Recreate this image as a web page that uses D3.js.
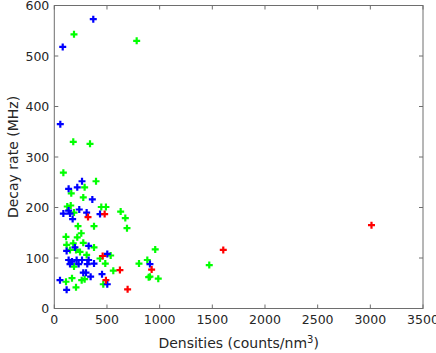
<!DOCTYPE html>
<html><head><meta charset="utf-8">
<script src="https://cdn.jsdelivr.net/npm/d3@7"></script>
<style>body{margin:0;background:#fff}svg{display:block}</style>
</head><body><svg id="c" width="436" height="353"></svg>
<script>
const xTicks = [0,500,1000,1500,2000,2500,3000,3500];
const yTicks = [0,100,200,300,400,500,600];
const blueX = [370,80,57,263,136,218,361,86,136,149,237,174,307,434,196,326,117,503,136,168,212,263,326,377,149,231,313,908,275,301,345,453,503,54,117];
const blueY = [573,518,365,252,237,240,216,188,194,188,196,177,190,187,121,124,114,108,96,93,96,96,96,89,88,88,88,88,71,71,63,68,48,56,37];
const greenX = [187,782,180,339,86,396,288,161,275,446,490,123,156,187,630,674,690,377,225,256,111,218,180,275,117,377,149,244,206,307,535,434,484,187,560,804,883,958,1471,260,465,111,168,206,288,896,908,987];
const greenY = [543,530,330,326,269,252,240,228,220,201,201,202,204,190,192,179,159,163,163,149,142,141,129,130,126,121,116,112,116,106,105,99,89,83,75,89,96,117,86,56,48,53,60,42,58,62,63,59];
const redX = [3011,1604,320,478,459,623,924,490,696];
const redY = [165,116,181,187,104,76,77,56,38];

const L=54.3,R=423,T=5.5,B=308.5;
const svg=d3.select("#c");
const x=d3.scaleLinear().domain([0,3500]).range([L,R]);
const y=d3.scaleLinear().domain([0,600]).range([B,T]);
const axisCol="#6e6e6e", txtCol="#262626";
const font="DejaVu Sans, sans-serif";

svg.append("rect").attr("x",L).attr("y",T).attr("width",R-L).attr("height",B-T)
  .attr("fill","none").attr("stroke",axisCol).attr("stroke-width",1);
const tl=4;
xTicks.forEach(v=>{
  svg.append("line").attr("x1",x(v)).attr("x2",x(v)).attr("y1",B).attr("y2",B-tl).attr("stroke",axisCol);
  svg.append("line").attr("x1",x(v)).attr("x2",x(v)).attr("y1",T).attr("y2",T+tl).attr("stroke",axisCol);
  svg.append("text").attr("x",x(v)).attr("y",B+15.5).attr("text-anchor","middle")
    .attr("font-family",font).attr("font-size",12.5).attr("fill",txtCol).text(v);
});
yTicks.forEach(v=>{
  svg.append("line").attr("x1",L).attr("x2",L+tl).attr("y1",y(v)).attr("y2",y(v)).attr("stroke",axisCol);
  svg.append("line").attr("x1",R).attr("x2",R-tl).attr("y1",y(v)).attr("y2",y(v)).attr("stroke",axisCol);
  svg.append("text").attr("x",L-5).attr("y",y(v)+4.5).attr("text-anchor","end")
    .attr("font-family",font).attr("font-size",12.5).attr("fill",txtCol).text(v);
});
const xl=svg.append("text").attr("x",(L+R)/2).attr("y",348).attr("text-anchor","middle")
  .attr("font-family",font).attr("font-size",14).attr("fill",txtCol);
xl.append("tspan").text("Densities (counts/nm");
xl.append("tspan").attr("dy",-5.5).attr("font-size",10).text("3");
xl.append("tspan").attr("dy",5.5).text(")");
svg.append("text").attr("transform",`translate(18,${(T+B)/2}) rotate(-90)`).attr("text-anchor","middle")
  .attr("font-family",font).attr("font-size",14).attr("fill",txtCol).text("Decay rate (MHz)");

function plus(xs,ys,col){
  const g=svg.append("g");
  xs.forEach((xv,i)=>{
    const cx=x(xv), cy=y(ys[i]);
    g.append("path").attr("d",`M${cx-3.5},${cy}H${cx+3.5}M${cx},${cy-3.5}V${cy+3.5}`)
      .attr("stroke",col).attr("stroke-width",2.2).attr("fill","none");
  });
}
plus(greenX,greenY,"#00ff00");
plus(blueX,blueY,"#0000ff");
plus(redX,redY,"#ff0000");
</script></body></html>
